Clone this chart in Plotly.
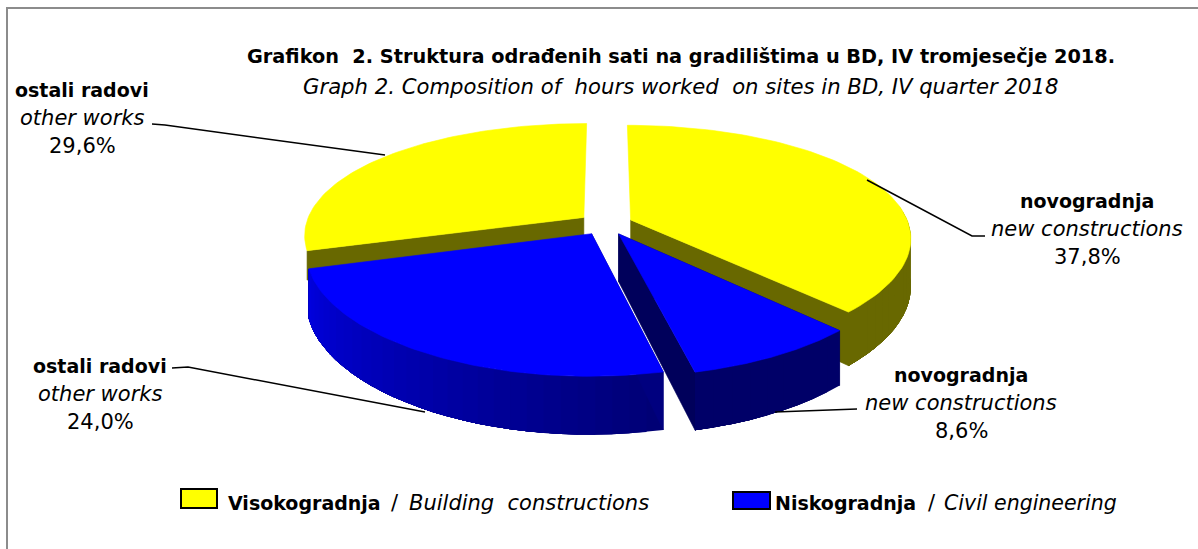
import numpy as np
import plotly.graph_objects as go

groups = ["Visokogradnja", "Niskogradnja", "Niskogradnja", "Visokogradnja"]
names_hr = ["novogradnja", "novogradnja", "ostali radovi", "ostali radovi"]
names_en = ["new constructions", "new constructions", "other works", "other works"]
shares = [37.8, 8.6, 24.0, 29.6]

FONT = "DejaVu Sans"
FB, FI, FN = 19, 21, 21
CX, CY, R, K, PX, PY, TH, EXPL = 605.5, 224, 278, 113, 0.15, 0.18, 47, 0.098
TOP = {"Visokogradnja": (255, 255, 0), "Niskogradnja": (0, 0, 255)}


def rgb(c, b):
    return "rgb(%d,%d,%d)" % tuple(int(v * b) for v in c)


def proj(X, Y, drop=0.0):
    sx = 1 / (1 + PX * Y)
    sy = 1 / (1 + PY * Y)
    return CX + R * X * sx, CY - K * Y * sy + TH * drop * sy


def poly(fig, xs, ys, color, lw=0.6):
    fig.add_trace(go.Scatter(x=list(xs), y=list(ys), mode="lines", fill="toself", fillcolor=color,
                             line=dict(color=color, width=lw), hoverinfo="skip", showlegend=False))


edges = np.concatenate([[0], np.cumsum(shares)]) / sum(shares) * 2 * np.pi
slices = []
for i in range(4):
    a0, a1 = edges[i], edges[i + 1]
    mid = (a0 + a1) / 2
    slices.append(dict(a0=a0, a1=a1, ox=EXPL * np.sin(mid), oy=EXPL * np.cos(mid), c=TOP[groups[i]]))

fig = go.Figure()


def rim_brightness(a):
    d = np.degrees(a)
    if d <= 167:
        return 0.41
    return 0.46 + (d - 167) / 86 * 0.42


def draw_wall(s, a, color, depth=1.0):
    ox, oy = s["ox"], s["oy"]
    X, Y = ox + np.sin(a), oy + np.cos(a)
    x0, y0 = proj(ox, oy)
    x1, y1 = proj(ox, oy, depth)
    x2, y2 = proj(X, Y, depth)
    x3, y3 = proj(X, Y)
    poly(fig, [x0, x1, x2, x3, x0], [y0, y1, y2, y3, y0], color)


def draw_rim(s):
    # each band runs to the end of the slice and is overpainted by the next, so no seams show
    ang = np.linspace(s["a0"], s["a1"], max(3, int((s["a1"] - s["a0"]) / 0.05)))
    for j, a in enumerate(ang[:-1]):
        if np.cos(a) > 0.15:
            continue
        th = ang[j:]
        px, py = s["ox"] + np.sin(th), s["oy"] + np.cos(th)
        tx, ty = proj(px, py)
        bx, by = proj(px, py, 1)
        poly(fig, np.r_[tx, bx[::-1], tx[0]], np.r_[ty, by[::-1], ty[0]],
             rgb(s["c"], rim_brightness(a)), lw=0)


def draw_top(s):
    ang = np.linspace(s["a0"], s["a1"], 80)
    X = np.r_[s["ox"], s["ox"] + np.sin(ang), s["ox"]]
    Y = np.r_[s["oy"], s["oy"] + np.cos(ang), s["oy"]]
    x, y = proj(X, Y)
    poly(fig, x, y, rgb(s["c"], 1))


# painter's order: back slices first
s = slices[3]
draw_wall(s, s["a0"], rgb(s["c"], 0.41), depth=0.6)
draw_top(s)
s = slices[0]
draw_rim(s)
draw_wall(s, s["a1"], rgb(s["c"], 0.41))
draw_top(s)
s = slices[2]
draw_rim(s)
draw_wall(s, s["a0"], rgb(s["c"], 0.5))
draw_top(s)
s = slices[1]
draw_wall(s, s["a0"], rgb(s["c"], 0.36))
draw_wall(s, s["a1"], rgb(s["c"], 0.36))
draw_rim(s)
draw_top(s)

leaders = [
    ([152, 165, 385], [124, 125, 155]),
    ([867, 972, 985], [180, 236, 236]),
    ([172, 188, 425], [368, 367, 412]),
    ([775, 857], [412, 409]),
]
for lx, ly in leaders:
    fig.add_trace(go.Scatter(x=lx, y=ly, mode="lines", line=dict(color="black", width=1.5),
                             hoverinfo="skip", showlegend=False))

shapes = [dict(type="rect", x0=7, y0=8, x1=1210, y1=560, line=dict(color="#8c8c8c", width=2), layer="below"),
          dict(type="rect", x0=181, y0=489, x1=217, y1=508, fillcolor="#ffff00", line=dict(color="black", width=2)),
          dict(type="rect", x0=733, y0=492, x1=770, y1=509, fillcolor="#0000ff", line=dict(color="black", width=2))]

label_pos = {0: (1087, 201), 1: (961, 375), 2: (100, 366), 3: (82, 90)}
ann = []


def text(x, y, t, size, anchor="center"):
    ann.append(dict(x=x, y=y, text=t, showarrow=False, xanchor=anchor, yanchor="middle",
                    font=dict(family=FONT, size=size, color="black")))


for i, (lx, ly) in label_pos.items():
    text(lx, ly, "<b>%s</b>" % names_hr[i], FB)
    text(lx, ly + 28, "<i>%s</i>" % names_en[i], FI)
    text(lx, ly + 56, ("%.1f%%" % shares[i]).replace(".", ","), FN)

text(680.5, 56, "<b>Grafikon  2. Struktura odrađenih sati na gradilištima u BD, IV tromjesečje 2018.</b>", 19.3)
text(680.5, 86, "<i>Graph 2. Composition of  hours worked  on sites in BD, IV quarter 2018</i>", 21.2)
text(226, 503, "<b>Visokogradnja</b>", FB, anchor="left")
text(389, 503, "/", FN, anchor="left")
text(407, 503, "<i>Building  constructions</i>", FI, anchor="left")
text(773, 503, "<b>Niskogradnja</b>", FB, anchor="left")
text(926, 503, "/", FN, anchor="left")
text(942, 503, "<i>Civil engineering</i>", 20.5, anchor="left")

fig.update_layout(width=1198, height=549, margin=dict(l=0, r=0, t=0, b=0), showlegend=False,
                  plot_bgcolor="white", paper_bgcolor="white", shapes=shapes, annotations=ann,
                  xaxis=dict(range=[0, 1198], visible=False, fixedrange=True),
                  yaxis=dict(range=[549, 0], visible=False, fixedrange=True))
fig.write_html("out.html", config=dict(displayModeBar=False),
               post_script="document.body.style.margin='0';document.body.style.overflow='hidden';")
